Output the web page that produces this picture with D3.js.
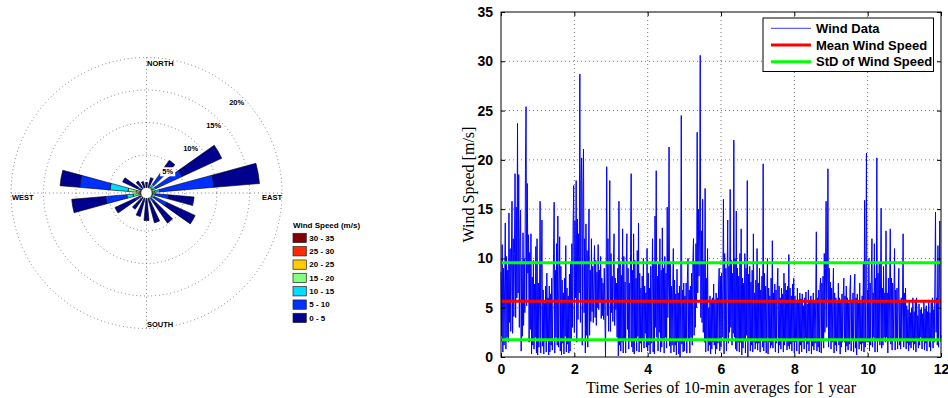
<!DOCTYPE html>
<meta charset="utf-8">
<script src="https://d3js.org/d3.v7.min.js"></script>
<style>
    body {margin: 0; background: #fff;}
    svg {display: block;}
    .tick text {font-family: 'Liberation Sans', Arial, sans-serif; font-weight: bold;}
</style>
<body>
<svg width="948" height="398"></svg>
<script>
    // ---- wind rose data (percent of time per direction and speed class) ----
    const directions = d3.range(0, 360, 20);
    const speedBins = ["0 - 5", "5 - 10", "10 - 15", "15 - 20", "20 - 25", "25 - 30", "30 - 35"];
    const binColors = ["#00008f", "#0030ff", "#00dcff", "#80ff80", "#ffcc00", "#ff2a00", "#800000"];
    //                0    20   40   60   80   100  120  140  160  180  200  220  240  260  280  300  320  340
    const freq0_5   = [0.6, 1.0, 1.0, 6.7, 7.0, 3.9, 4.8, 3.9, 3.3, 3.0, 2.4, 1.8, 3.3, 5.2, 3.0, 2.4, 1.1, 0.8];
    const freq5_10  = [0.2, 0.5, 3.5, 4.5, 8.4, 2.1, 2.1, 0.7, 0.5, 0.4, 0.4, 0.3, 1.0, 3.3, 4.7, 0.7, 0.3, 0.2];
    const freq10_15 = [0.0, 0.1, 0.6, 0.5, 0.8, 0.4, 0.4, 0.2, 0.1, 0.0, 0.1, 0.1, 0.2, 1.0, 2.8, 0.1, 0.0, 0.0];
    const freq15_20 = [0.0, 0.0, 0.2, 0.2, 0.3, 0.1, 0.1, 0.0, 0.0, 0.0, 0.0, 0.0, 0.0, 0.9, 1.3, 0.0, 0.0, 0.0];
    const freq20_25 = [0.0, 0.0, 0.0, 0.0, 0.1, 0.0, 0.0, 0.0, 0.0, 0.0, 0.0, 0.0, 0.0, 0.2, 0.5, 0.0, 0.0, 0.0];
    const freq25_30 = [0.0, 0.0, 0.0, 0.0, 0.0, 0.0, 0.0, 0.0, 0.0, 0.0, 0.0, 0.0, 0.0, 0.1, 0.2, 0.0, 0.0, 0.0];
    const freq30_35 = [0.0, 0.0, 0.0, 0.0, 0.0, 0.0, 0.0, 0.0, 0.0, 0.0, 0.0, 0.0, 0.0, 0.0, 0.0, 0.0, 0.0, 0.0];
    const freqs = [freq0_5, freq5_10, freq10_15, freq15_20, freq20_25, freq25_30, freq30_35];
    const ringPercents = [5, 10, 15, 20];

    // ---- time series data (10-min averages) ----
    const windSpeed = [
        // 0-1
        8.6,2.1,11.4,0.5,9.0,1.2,7.5,13.6,0.8,10.2, 2.0,8.8,1.5,14.6,3.5,11.0,2.6,9.5,15.8,2.4,
        12.0,4.1,10.5,18.6,4.0,15.2,6.0,23.7,6.5,18.5, 3.0,12.1,14.9,0.6,9.4,2.1,12.6,3.2,10.0,4.5,
        19.0,25.4,5.2,17.6,8.5,12.4,1.5,10.6,2.8,12.5, 0.3,8.1,1.2,9.8,0.8,7.4,2.0,11.2,0.4,12.0,
        // 1-2
        0.2,7.5,1.0,6.2,15.8,0.4,9.0,13.9,1.1,6.8, 0.3,5.5,1.6,7.2,0.5,8.5,1.6,6.0,0.2,7.2,
        0.5,6.4,1.2,8.0,0.7,6.0,10.5,15.7,0.4,8.8, 2.0,11.5,1.2,14.3,1.0,6.5,12.2,0.6,9.2,0.2,
        7.8,1.4,6.5,0.3,8.0,2.1,11.3,0.5,7.0,1.3, 6.2,0.4,8.4,0.6,9.5,1.8,11.5,3.0,13.5,17.4,
        // 2-3
        2.5,13.8,6.0,17.9,1.5,14.0,3.8,12.5,6.5,28.7, 3.5,18.0,20.2,1.2,16.5,21.1,4.5,12.0,0.4,13.5,
        2.2,10.8,1.0,9.0,15.0,2.2,8.8,3.6,12.0,4.6, 9.2,3.5,7.5,11.3,4.0,9.8,3.2,8.6,5.0,11.4,
        4.8,8.8,5.5,10.2,3.9,8.0,4.2,7.5,3.8,9.0, 4.5,0.0,8.5,19.3,4.2,12.0,2.6,9.5,17.9,2.6,
        // 3-4
        10.5,4.5,8.2,3.6,9.5,12.5,3.2,8.0,4.8,7.5, 2.0,9.0,0.1,15.8,1.2,9.6,0.6,8.3,1.5,13.0,
        0.4,10.2,1.8,7.6,0.4,9.2,12.5,2.8,9.0,0.8, 7.5,1.6,10.5,18.6,1.0,8.8,0.5,12.5,0.3,9.8,
        1.9,8.0,0.6,10.8,2.1,13.6,0.5,8.5,1.4,7.0, 0.5,8.2,1.8,10.0,0.9,7.2,2.4,6.5,1.0,11.0,
        // 4-5
        0.6,8.5,1.2,7.0,0.3,9.2,1.4,6.8,12.0,0.5, 9.5,0.3,14.3,3.0,18.9,2.0,8.2,0.6,9.6,2.5,
        12.0,0.5,8.8,1.0,13.1,1.8,9.0,0.4,10.2,2.0, 8.5,0.9,15.2,4.0,7.8,21.3,1.1,9.5,0.4,7.2,
        1.2,6.8,11.0,0.5,7.8,1.2,6.4,0.2,8.9,1.5, 6.5,0.3,7.2,0.0,6.0,24.5,1.3,6.8,0.5,7.5,
        // 5-6
        0.6,6.2,1.7,7.5,0.4,8.0,10.0,1.7,6.8,0.4, 7.2,2.0,8.5,1.2,9.5,12.0,2.2,9.5,3.0,11.5,
        5.0,22.8,6.5,15.0,8.2,13.5,30.6,4.0,12.8,3.5, 16.0,2.5,9.8,1.5,17.1,0.5,8.0,1.8,11.0,0.6,
        5.0,1.2,6.2,0.3,5.8,0.8,6.0,1.5,7.4,1.2, 5.8,0.3,6.5,0.8,6.0,1.4,7.0,9.0,0.6,8.2,
        // 6-7
        1.0,8.5,2.0,7.2,16.0,0.3,10.5,1.6,9.0,0.6, 8.0,13.9,1.4,9.2,2.5,17.0,3.0,9.8,1.2,8.5,
        2.4,22.0,2.0,10.0,0.8,14.8,0.6,9.0,1.5,8.2, 0.5,10.5,1.5,13.0,0.2,8.0,0.9,7.5,1.8,10.5,
        0.4,9.0,2.2,17.9,0.0,8.4,1.7,9.2,0.6,7.6, 1.2,8.8,0.5,12.5,1.5,6.5,0.8,7.8,1.4,11.0,
        // 7-8
        0.7,7.5,1.4,9.0,0.5,6.8,1.8,8.2,1.0,19.6, 0.6,8.5,1.5,7.2,0.4,6.5,10.0,0.3,7.0,1.5,
        6.2,0.9,8.0,1.2,11.8,0.9,6.5,1.8,7.4,0.5, 6.8,1.4,7.2,9.0,0.4,7.2,1.2,6.0,0.8,7.0,
        1.6,6.4,0.5,8.5,1.2,7.5,1.6,6.8,0.7,7.2, 1.1,10.4,0.8,7.0,1.3,6.2,0.6,7.4,1.5,8.0,
        // 8-9
        0.4,6.2,1.5,5.5,0.6,7.0,1.8,5.8,0.3,6.5, 1.2,5.9,0.5,6.4,1.5,5.2,0.8,6.0,1.9,6.6,
        0.4,5.4,1.3,6.8,0.6,5.6,1.6,6.2,0.3,5.8, 1.1,6.5,0.7,5.5,1.4,6.0,12.7,0.6,6.0,1.0,
        6.8,0.5,7.2,8.0,0.4,7.5,1.6,8.2,0.9,10.5, 2.5,9.0,15.8,3.0,8.5,19.1,1.0,9.0,1.8,7.6,
        // 9-10
        0.8,7.0,1.5,6.2,9.0,0.4,6.5,1.2,6.0,0.6, 5.5,1.8,7.5,1.2,6.0,0.3,5.8,1.0,6.4,1.5,
        6.2,8.0,1.5,6.2,0.5,7.2,1.1,6.0,0.7,5.5, 1.3,6.8,8.3,0.6,5.8,1.7,6.5,0.5,7.0,8.4,
        0.9,6.0,0.2,6.4,1.6,5.5,0.8,7.5,1.3,5.5, 0.6,6.2,1.4,9.5,0.5,15.9,1.0,7.2,20.7,1.5,
        // 10-11
        6.8,1.5,10.0,0.6,7.5,1.2,8.2,12.0,1.0,6.5, 2.0,11.5,0.5,8.0,1.8,20.2,0.5,8.5,1.8,9.5,
        1.2,7.0,15.1,0.9,7.0,1.2,9.2,2.0,6.5,1.5, 12.8,2.0,6.5,0.4,8.0,1.6,7.2,13.0,1.3,8.0,
        0.7,7.5,1.9,6.0,11.0,0.7,6.8,1.9,7.0,0.8, 6.5,9.0,1.2,5.5,0.8,6.0,1.6,5.8,12.5,1.0,
        // 11-12
        6.5,1.6,7.0,0.8,5.2,1.4,4.8,0.6,5.5,1.2, 4.5,0.9,5.0,1.5,6.0,0.7,4.6,1.3,5.8,0.5,
        6.0,1.8,4.2,0.9,5.4,1.2,4.8,2.0,5.0,0.8, 4.4,1.6,5.6,0.7,4.9,1.4,5.2,0.6,4.6,1.8,
        5.8,1.0,4.5,0.6,5.5,1.7,6.0,0.9,4.8,1.5, 7.5,14.7,2.5,6.0,1.2,11.3,1.0,6.5,13.8,1.6,
        2.2
    ];
    const samplesPerUnit = 60;
    const meanSpeed = 5.66;
    const stdSpeed = 3.9;
    const xTicks = d3.range(0, 13, 2);
    const yTicks = d3.range(0, 36, 5);

    var svg = d3.select("svg");

    // ================= wind rose =================
    var cx = 146.5, cy = 193, R = 135.5;
    var r = d3.scaleLinear().domain([0, 20]).range([5.5, R]);
    var halfWidth = 5.2; // degrees
    var rose = svg.append("g").attr("transform", "translate(" + cx + "," + cy + ")");

    // dotted rings and cross
    rose.append("g").selectAll("circle")
        .data(ringPercents)
        .enter().append("circle")
        .attr("r", d => r(d))
        .style("fill", "none")
        .style("stroke", "#444")
        .style("stroke-width", 0.8)
        .style("stroke-dasharray", "0.8,3");
    rose.append("line").attr("x1", -R).attr("x2", R).attr("y1", 0).attr("y2", 0)
        .style("stroke", "#444").style("stroke-width", 0.8).style("stroke-dasharray", "0.8,3");
    rose.append("line").attr("y1", -R).attr("y2", R).attr("x1", 0).attr("x2", 0)
        .style("stroke", "#444").style("stroke-width", 0.8).style("stroke-dasharray", "0.8,3");

    // stacked sectors: highest speed class innermost
    var sectors = [];
    directions.forEach(function (dir, i) {
        var cum = 0;
        for (var k = speedBins.length - 1; k >= 0; k--) {
            var v = freqs[k][i];
            if (v > 0) sectors.push({dir: dir, bin: k, inner: cum, outer: cum + v});
            cum += v;
        }
    });
    var arc = d3.arc()
        .innerRadius(d => r(d.inner))
        .outerRadius(d => r(d.outer))
        .startAngle(d => (d.dir - halfWidth) * Math.PI / 180)
        .endAngle(d => (d.dir + halfWidth) * Math.PI / 180);
    rose.append("g").selectAll("path")
        .data(sectors)
        .enter().append("path")
        .attr("d", arc)
        .style("fill", d => binColors[d.bin])
        .style("stroke", "#000")
        .style("stroke-width", 0.6);
    rose.append("circle").attr("r", r(0) - 1).style("fill", "#fff");

    // percent labels along NE
    var pct = rose.append("g").selectAll("g")
        .data(ringPercents)
        .enter().append("g")
        .attr("transform", function (d) {
            var rr = r(d) - 8;
            return "translate(" + (rr * Math.SQRT1_2) + "," + (-rr * Math.SQRT1_2) + ")";
        });
    pct.append("rect").attr("x", -7.5).attr("y", -4.5).attr("width", 15).attr("height", 9).style("fill", "#fff");
    pct.append("text")
        .attr("text-anchor", "middle")
        .attr("dy", "0.35em")
        .style("font", "bold 7.5px 'Liberation Sans', Arial, sans-serif")
        .text(d => d + "%");

    var compass = [
        {t: "NORTH", x: 0.5, y: -R + 8.5, a: "start"},
        {t: "SOUTH", x: 0.5, y: R - 1.5, a: "start"},
        {t: "WEST", x: -R + 1, y: 7, a: "start"},
        {t: "EAST", x: R, y: 7, a: "end"}
    ];
    rose.append("g").selectAll("text")
        .data(compass)
        .enter().append("text")
        .attr("x", d => d.x).attr("y", d => d.y)
        .attr("text-anchor", d => d.a)
        .style("font", "bold 7.5px 'Liberation Sans', Arial, sans-serif")
        .text(d => d.t);

    // rose legend
    var leg = svg.append("g").attr("transform", "translate(293,220)");
    leg.append("text").attr("x", 0).attr("y", 8)
        .style("font", "bold 8px 'Liberation Sans', Arial, sans-serif")
        .text("Wind Speed (m/s)");
    var legRows = leg.selectAll("g.row")
        .data(d3.range(speedBins.length - 1, -1, -1))
        .enter().append("g")
        .attr("class", "row")
        .attr("transform", (d, i) => "translate(0," + (13.3 + i * 13.33) + ")");
    legRows.append("rect")
        .attr("width", 13.3).attr("height", 9.3)
        .style("fill", d => binColors[d])
        .style("stroke", "#222").style("stroke-width", 0.7);
    legRows.append("text")
        .attr("x", 16.3).attr("y", 4.7).attr("dy", "0.35em")
        .style("font", "bold 8px 'Liberation Sans', Arial, sans-serif")
        .text(d => speedBins[d]);

    // ================= time series =================
    var x0 = 501, x1 = 941, y0 = 357, y1 = 12;
    var x = d3.scaleLinear().domain([0, 12]).range([x0, x1]);
    var y = d3.scaleLinear().domain([0, 35]).range([y0, y1]);
    var ts = svg.append("g");

    // dotted grid
    ts.append("g").selectAll("line")
        .data(xTicks.slice(1, -1))
        .enter().append("line")
        .attr("x1", d => x(d)).attr("x2", d => x(d)).attr("y1", y0).attr("y2", y1)
        .style("stroke", "#555").style("stroke-width", 0.8).style("stroke-dasharray", "1,3");
    ts.append("g").selectAll("line")
        .data(yTicks.slice(1, -1))
        .enter().append("line")
        .attr("y1", d => y(d)).attr("y2", d => y(d)).attr("x1", x0).attr("x2", x1)
        .style("stroke", "#555").style("stroke-width", 0.8).style("stroke-dasharray", "1,3");

    var line = d3.line()
        .x((d, i) => x(i / samplesPerUnit))
        .y(d => y(d));
    ts.append("path")
        .datum(windSpeed)
        .attr("d", line)
        .style("fill", "none")
        .style("stroke", "#0000ff")
        .style("stroke-width", 1);

    var hLines = [
        {v: meanSpeed, c: "#ff0000"},
        {v: meanSpeed + stdSpeed, c: "#00ff00"},
        {v: meanSpeed - stdSpeed, c: "#00ff00"}
    ];
    ts.append("g").selectAll("line")
        .data(hLines)
        .enter().append("line")
        .attr("x1", x0).attr("x2", x1)
        .attr("y1", d => y(d.v)).attr("y2", d => y(d.v))
        .style("stroke", d => d.c).style("stroke-width", 3);

    // axes (ticks inside, box on)
    ts.append("g").attr("transform", "translate(0," + y0 + ")")
        .call(d3.axisBottom(x).tickValues(xTicks).tickSize(-4).tickPadding(7).tickSizeOuter(0))
        .call(g => g.selectAll("text").style("font-size", "14px").attr("fill", "#000"));
    ts.append("g").attr("transform", "translate(" + x0 + ",0)")
        .call(d3.axisLeft(y).tickValues(yTicks).tickSize(-4).tickPadding(8).tickSizeOuter(0))
        .call(g => g.selectAll("text").style("font-size", "14px").attr("fill", "#000"));
    ts.append("g").attr("transform", "translate(0," + y1 + ")")
        .call(d3.axisTop(x).tickValues(xTicks).tickSize(-4).tickFormat("").tickSizeOuter(0));
    ts.append("g").attr("transform", "translate(" + x1 + ",0)")
        .call(d3.axisRight(y).tickValues(yTicks).tickSize(-4).tickFormat("").tickSizeOuter(0));
    ts.selectAll(".domain").remove();
    ts.append("rect")
        .attr("x", x0).attr("y", y1).attr("width", x1 - x0).attr("height", y0 - y1)
        .style("fill", "none").style("stroke", "#000").style("stroke-width", 1);

    ts.append("text")
        .attr("x", (x0 + x1) / 2).attr("y", 393)
        .attr("text-anchor", "middle")
        .style("font", "16px 'Liberation Serif', 'Times New Roman', serif")
        .text("Time Series of 10-min averages for 1 year");
    ts.append("text")
        .attr("transform", "translate(474," + ((y0 + y1) / 2) + ") rotate(-90)")
        .attr("text-anchor", "middle")
        .style("font", "16px 'Liberation Serif', 'Times New Roman', serif")
        .text("Wind Speed [m/s]");

    // legend
    var legendItems = [
        {t: "Wind Data", c: "#3a3aff", w: 1},
        {t: "Mean Wind Speed", c: "#ff0000", w: 3},
        {t: "StD of Wind Speed", c: "#00ff00", w: 3}
    ];
    var lg = ts.append("g").attr("transform", "translate(763,18)");
    lg.append("rect").attr("width", 170.5).attr("height", 53.5)
        .style("fill", "#fff").style("stroke", "#000").style("stroke-width", 1);
    var li = lg.selectAll("g.item")
        .data(legendItems)
        .enter().append("g")
        .attr("class", "item")
        .attr("transform", (d, i) => "translate(0," + (10.3 + i * 16.7) + ")");
    li.append("line").attr("x1", 8).attr("x2", 48)
        .style("stroke", d => d.c).style("stroke-width", d => d.w);
    li.append("text").attr("x", 53).attr("dy", "0.35em")
        .style("font", "bold 13px 'Liberation Sans', Arial, sans-serif")
        .text(d => d.t);
</script>
</body>
